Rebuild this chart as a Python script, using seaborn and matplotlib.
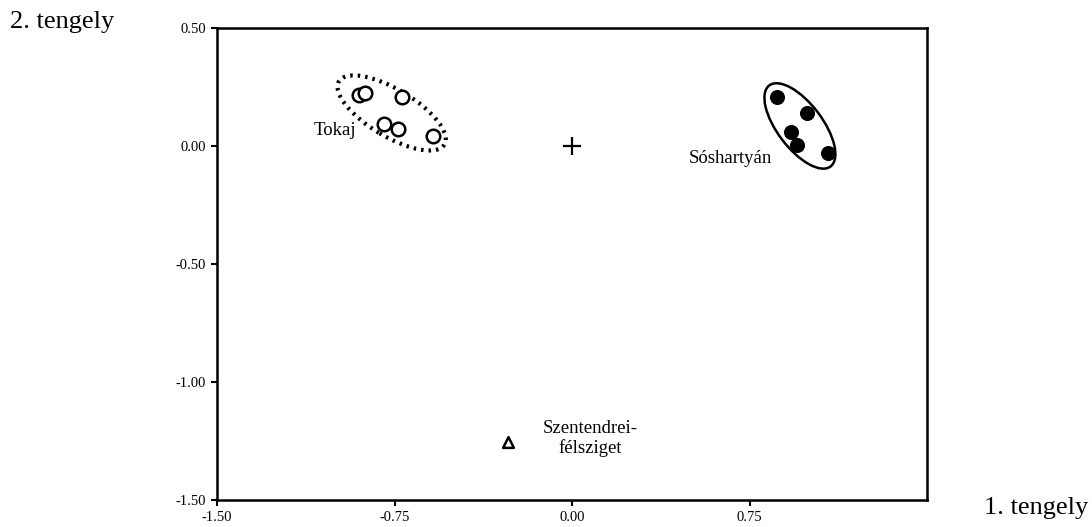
import numpy as np
import pandas as pd
import matplotlib
matplotlib.use("Agg")
import matplotlib.pyplot as plt
from matplotlib.patches import Ellipse
import seaborn as sns

# site scores
tokaj_x = [-0.90, -0.875, -0.72, -0.794, -0.735, -0.587]
tokaj_y = [0.216, 0.225, 0.208, 0.093, 0.072, 0.042]
sos_x = [0.866, 0.993, 0.925, 0.95, 1.08]
sos_y = [0.208, 0.14, 0.059, 0.004, -0.03]
szent_x = [-0.27]
szent_y = [-1.254]
origin_x = [0.0]
origin_y = [0.0]

x_ticks = [-1.50, -0.75, 0.00, 0.75]
y_ticks = [0.50, 0.00, -0.50, -1.00, -1.50]

Tokaj = pd.DataFrame({"x": tokaj_x, "y": tokaj_y})
Sos = pd.DataFrame({"x": sos_x, "y": sos_y})
Szent = pd.DataFrame({"x": szent_x, "y": szent_y})

sns.set_style("white")
plt.rcParams["font.family"] = ["Liberation Serif", "DejaVu Serif"]
plt.rcParams["text.color"] = "black"
plt.rcParams["xtick.color"] = "black"
plt.rcParams["ytick.color"] = "black"

fig = plt.figure(figsize=(10.92, 5.27), dpi=100)
ax = fig.add_axes([217 / 1092, 27 / 527, 710 / 1092, 472 / 527])

sns.scatterplot(data=Tokaj, x="x", y="y", ax=ax, marker="o", s=95,
                facecolor="white", edgecolor="black", linewidth=1.8, zorder=3)
sns.scatterplot(data=Sos, x="x", y="y", ax=ax, marker="o", s=100,
                color="black", edgecolor="black", zorder=3)
sns.scatterplot(data=Szent, x="x", y="y", ax=ax, marker="^", s=60,
                facecolor="white", edgecolor="black", linewidth=1.8, zorder=3)
ax.plot(origin_x, origin_y, marker="+", color="black", markersize=13, mew=1.6)

# group outlines
ax.add_patch(Ellipse((-0.762, 0.140), 0.52, 0.20, angle=-31, fill=False,
                     edgecolor="black", linewidth=3, linestyle=(0, (0.6, 1.2))))
ax.add_patch(Ellipse((0.963, 0.085), 0.43, 0.19, angle=-53, fill=False,
                     edgecolor="black", linewidth=1.8))

ax.text(-0.91, 0.064, "Tokaj", fontsize=13.5, ha="right", va="center")
ax.text(0.845, -0.052, "Sóshartyán", fontsize=13.5, ha="right", va="center")
ax.text(0.076, -1.24, "Szentendrei-\nfélsziget", fontsize=13.5, ha="center",
        va="center", linespacing=1.15)

ax.set_xlim(-1.5, 1.5)
ax.set_ylim(-1.5, 0.5)
ax.set_xticks(x_ticks)
ax.set_xticklabels(["%.2f" % v for v in x_ticks])
ax.set_yticks(y_ticks)
ax.set_yticklabels(["%.2f" % v for v in y_ticks])
ax.tick_params(direction="out", length=4, width=1.5, labelsize=10.5, pad=4,
               bottom=True, left=True, color="black", labelcolor="black")
ax.set_xlabel("")
ax.set_ylabel("")
for sp in ax.spines.values():
    sp.set_linewidth(1.8)
    sp.set_color("black")

fig.text(10 / 1092, 1 - 22 / 527, "2. tengely", fontsize=19, ha="left", va="center")
fig.text(1088 / 1092, 1 - 508 / 527, "1. tengely", fontsize=19, ha="right", va="center")

fig.savefig("out.png", dpi=100)
